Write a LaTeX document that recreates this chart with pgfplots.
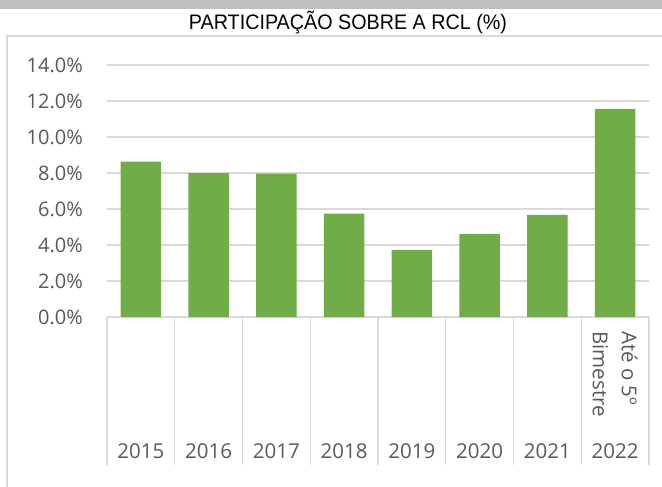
\documentclass[border=0pt]{standalone}
\usepackage{pgfplots}
\pgfplotsset{compat=1.18}
\usepackage{fontspec}
\setmainfont{Open Sans}
\newfontfamily\titlefont{Liberation Sans}
\usepackage{graphicx}
\definecolor{barGreen}{HTML}{70AD47}
\definecolor{gridgray}{HTML}{D9D9D9}
\definecolor{labgray}{HTML}{595959}
\definecolor{topgray}{HTML}{BFBFBF}
\begin{document}
\begin{tikzpicture}
\path[use as bounding box] (0,0) rectangle (662bp,487bp);
\fill[topgray] (0,478bp) rectangle (662bp,487bp);
\draw[gridgray, line width=1.3bp] (7bp,-2bp) -- (7bp,451bp) -- (664bp,451bp);
\node[anchor=base, inner sep=0] at (348bp,457bp) {\titlefont\fontsize{21bp}{25bp}\selectfont\scalebox{0.94}[1]{PARTICIPAÇÃO SOBRE A RCL (\%)}};
\begin{axis}[
  at={(107bp,170bp)}, anchor=south west,
  scale only axis, width=542bp, height=252bp,
  xmin=-0.5, xmax=7.5, ymin=0, ymax=14,
  clip=false,
  /pgf/number format/assume math mode=true,
  axis x line*=bottom, axis y line*=left,
  y axis line style={draw=none},
  x axis line style={draw=gridgray, line width=1.3bp},
  ymajorgrids, grid style={draw=gridgray, line width=1.3bp},
  ytick={0,2,...,14},
  ytick style={draw=none},
  yticklabel={\pgfmathprintnumber[fixed,fixed zerofill,precision=1]{\tick}\%},
  yticklabel style={font=\fontsize{20bp}{24bp}\selectfont, text=labgray, inner sep=0, anchor=east, xshift=-24bp},
  xtick={0,...,7},
  xticklabels={2015,2016,2017,2018,2019,2020,2021,2022},
  xtick style={draw=none},
  xticklabel style={font=\fontsize{20.5bp}{24bp}\selectfont, text=labgray, inner sep=0, anchor=base, yshift=-141bp},
]
\addplot[ybar, bar width=0.6, fill=barGreen, draw=none] coordinates {
  (0,8.63) (1,7.99) (2,7.97) (3,5.74) (4,3.71) (5,4.60) (6,5.68) (7,11.56)
};
\pgfplotsinvokeforeach{-0.5,0.5,...,7.5}{
  \draw[gridgray, line width=1.3bp] (axis cs:#1,0) -- ([yshift=-148bp]axis cs:#1,0);
}
\node[rotate=-90, anchor=west, align=left, inner sep=0, text=labgray,
  font=\fontsize{20.5bp}{29bp}\selectfont] at ([yshift=-14bp]axis cs:7,0) {Até o 5º\\Bimestre};
\end{axis}
\end{tikzpicture}
\end{document}
